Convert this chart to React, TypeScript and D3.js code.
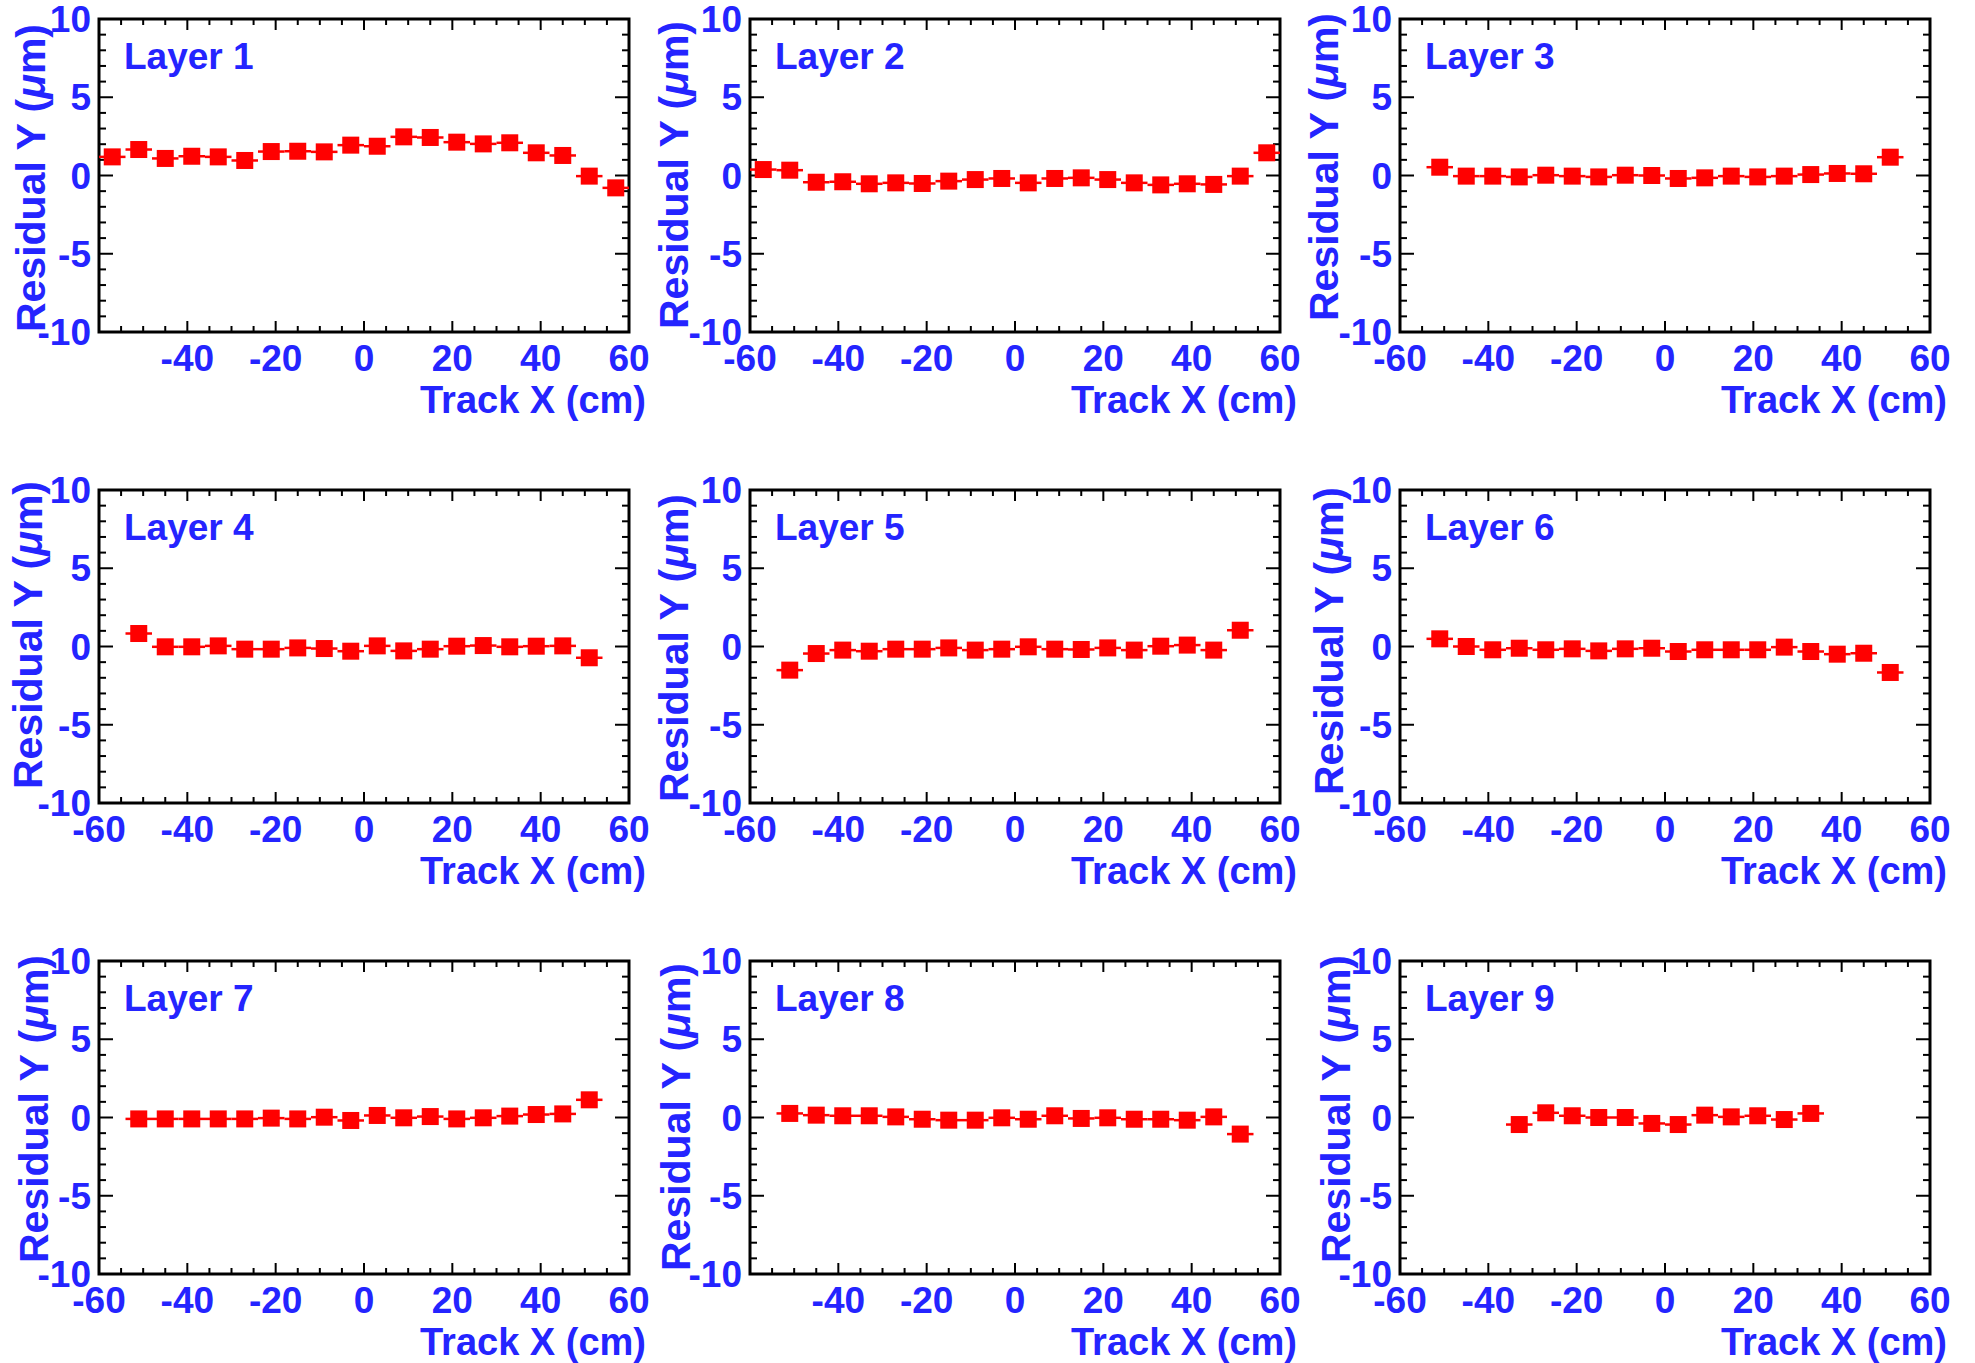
import React from 'react';
import * as d3 from 'd3';

// ---------------- data ----------------
const layerNames = ['Layer 1', 'Layer 2', 'Layer 3', 'Layer 4', 'Layer 5', 'Layer 6', 'Layer 7', 'Layer 8', 'Layer 9'];

const xTickValues = [-60, -40, -20, 0, 20, 40, 60];
const yTickValues = [-10, -5, 0, 5, 10];

const trackX20 = [-57, -51, -45, -39, -33, -27, -21, -15, -9, -3, 3, 9, 15, 21, 27, 33, 39, 45, 51, 57];
const trackX18 = [-51, -45, -39, -33, -27, -21, -15, -9, -3, 3, 9, 15, 21, 27, 33, 39, 45, 51];
const trackX12 = [-33, -27, -21, -15, -9, -3, 3, 9, 15, 21, 27, 33];

const layer1 = [1.19, 1.66, 1.09, 1.23, 1.19, 0.96, 1.53, 1.55, 1.51, 1.94, 1.87, 2.47, 2.43, 2.13, 2.02, 2.09, 1.45, 1.28, -0.04, -0.79];
const layer2 = [0.38, 0.34, -0.43, -0.40, -0.53, -0.47, -0.51, -0.36, -0.26, -0.19, -0.47, -0.19, -0.15, -0.26, -0.47, -0.60, -0.53, -0.57, -0.04, 1.45];
const layer3 = [0.53, -0.04, -0.04, -0.09, 0.02, -0.04, -0.09, 0.02, 0.00, -0.19, -0.15, -0.04, -0.09, -0.04, 0.06, 0.13, 0.11, 1.17];
const layer4 = [0.83, -0.02, -0.02, 0.04, -0.17, -0.17, -0.09, -0.13, -0.30, 0.04, -0.28, -0.17, 0.02, 0.06, -0.02, 0.02, 0.04, -0.72];
const layer5 = [-1.51, -0.45, -0.23, -0.30, -0.17, -0.17, -0.09, -0.23, -0.17, -0.02, -0.17, -0.19, -0.09, -0.23, 0.02, 0.09, -0.23, 1.04];
const layer6 = [0.49, 0.00, -0.21, -0.11, -0.21, -0.15, -0.28, -0.15, -0.11, -0.32, -0.21, -0.21, -0.21, -0.04, -0.32, -0.49, -0.43, -1.66];
const layer7 = [-0.09, -0.09, -0.09, -0.09, -0.09, -0.04, -0.09, 0.02, -0.19, 0.13, -0.02, 0.06, -0.09, -0.02, 0.09, 0.19, 0.23, 1.13];
const layer8 = [0.26, 0.15, 0.11, 0.11, 0.04, -0.11, -0.17, -0.17, -0.02, -0.11, 0.11, -0.06, -0.02, -0.11, -0.11, -0.17, 0.04, -1.06];
const layer9 = [-0.45, 0.30, 0.11, 0.00, 0.00, -0.38, -0.45, 0.15, 0.04, 0.11, -0.13, 0.26];

const binHalfWidth = 3; // cm

const panelData = [
  { name: layerNames[0], xs: trackX20, ys: layer1 },
  { name: layerNames[1], xs: trackX20, ys: layer2 },
  { name: layerNames[2], xs: trackX18, ys: layer3 },
  { name: layerNames[3], xs: trackX18, ys: layer4 },
  { name: layerNames[4], xs: trackX18, ys: layer5 },
  { name: layerNames[5], xs: trackX18, ys: layer6 },
  { name: layerNames[6], xs: trackX18, ys: layer7 },
  { name: layerNames[7], xs: trackX18, ys: layer8 },
  { name: layerNames[8], xs: trackX12, ys: layer9 },
];

// ---------------- layout / style ----------------
const W = 1975;
const H = 1363;
const COL_LEFT = [99, 750, 1400];
const ROW_TOP = [19, 490, 961];
const FW = 530;
const FH = 313;
const BLUE = '#2424ff';
const RED = '#ff0000';
const FONT = '"Liberation Sans", Arial, Helvetica, sans-serif';
const MARKER = 17;
// per-panel y-title offsets [dx from frame left to baseline, dy of text end from frame top]
const yTitleOffsets = [[-54, 5], [-62, 2], [-62, -6], [-57, -9], [-62, 4], [-57, -3], [-51, -6], [-60, 2], [-50, -6]];
const hideFirstXLabel = [true, false, false, false, false, false, false, true, false];

function Panel({ idx }: { idx: number }) {
  const d = panelData[idx];
  const left = COL_LEFT[idx % 3];
  const top = ROW_TOP[Math.floor(idx / 3)];
  const x = d3.scaleLinear().domain([-60, 60]).range([left, left + FW]);
  const y = d3.scaleLinear().domain([-10, 10]).range([top + FH, top]);

  const xMinor = d3.range(-60, 60.01, 5).filter((v) => !xTickValues.includes(v));
  const yMinor = d3.range(-10, 10.01, 1).filter((v) => !yTickValues.includes(v));

  const xMajLen = 11, xMinLen = 6, yMajLen = 14, yMinLen = 7;
  const bottom = top + FH;
  const right = left + FW;
  const [tdx, tdy] = yTitleOffsets[idx];

  return (
    <g>
      <g stroke="#000" strokeWidth={2}>
        {xTickValues.map((v) => (
          <g key={'xm' + v}>
            <line x1={x(v)} x2={x(v)} y1={bottom} y2={bottom - xMajLen} />
            <line x1={x(v)} x2={x(v)} y1={top} y2={top + xMajLen} />
          </g>
        ))}
        {xMinor.map((v) => (
          <g key={'xn' + v}>
            <line x1={x(v)} x2={x(v)} y1={bottom} y2={bottom - xMinLen} />
            <line x1={x(v)} x2={x(v)} y1={top} y2={top + xMinLen} />
          </g>
        ))}
        {yTickValues.map((v) => (
          <g key={'ym' + v}>
            <line x1={left} x2={left + yMajLen} y1={y(v)} y2={y(v)} />
            <line x1={right} x2={right - yMajLen} y1={y(v)} y2={y(v)} />
          </g>
        ))}
        {yMinor.map((v) => (
          <g key={'yn' + v}>
            <line x1={left} x2={left + yMinLen} y1={y(v)} y2={y(v)} />
            <line x1={right} x2={right - yMinLen} y1={y(v)} y2={y(v)} />
          </g>
        ))}
      </g>
      <rect x={left} y={top} width={FW} height={FH} fill="none" stroke="#000" strokeWidth={3} />

      <g>
        {d.xs.map((xv, i) => (
          <line key={'e' + i} x1={x(xv - binHalfWidth)} x2={x(xv + binHalfWidth)} y1={y(d.ys[i])} y2={y(d.ys[i])} stroke={RED} strokeWidth={2.5} />
        ))}
        {d.xs.map((xv, i) => (
          <rect key={'m' + i} x={x(xv) - MARKER / 2} y={y(d.ys[i]) - MARKER / 2} width={MARKER} height={MARKER} fill={RED} />
        ))}
      </g>

      <g fill={BLUE} fontFamily={FONT} fontWeight="bold" fontSize={37}>
        {xTickValues.map((v, i) =>
          i === 0 && hideFirstXLabel[idx] ? null : (
            <text key={'xl' + v} x={x(v)} y={bottom + 39} textAnchor="middle">{String(v)}</text>
          )
        )}
        {yTickValues.map((v) => (
          <text key={'yl' + v} x={left - 8} y={y(v) + 13} textAnchor="end">{String(v)}</text>
        ))}
      </g>

      <text x={right + 17} y={bottom + 81} textAnchor="end" fill={BLUE} fontFamily={FONT} fontWeight="bold" fontSize={38}>
        Track X (cm)
      </text>
      <text
        transform={`translate(${left + tdx},${top + tdy}) rotate(-90)`}
        textAnchor="end"
        fill={BLUE}
        fontFamily={FONT}
        fontWeight="bold"
        fontSize={41}
      >
        Residual Y (<tspan fontStyle="italic">μ</tspan>m)
      </text>

      <text x={left + 25} y={top + 50} fill={BLUE} fontFamily={FONT} fontWeight="bold" fontSize={37}>
        {d.name}
      </text>
    </g>
  );
}

export default function App() {
  return (
    <svg
      width={W}
      height={H}
      viewBox={`0 0 ${W} ${H}`}
      style={{ position: 'absolute', left: 0, top: 0, background: '#fff', display: 'block' }}
    >
      <rect x={0} y={0} width={W} height={H} fill="#fff" />
      {panelData.map((_, i) => (
        <Panel key={i} idx={i} />
      ))}
    </svg>
  );
}
